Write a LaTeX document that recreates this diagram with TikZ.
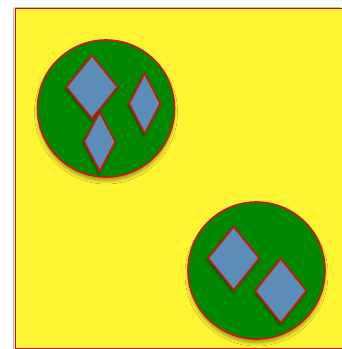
\documentclass[tikz,border=0pt]{standalone}
\usetikzlibrary{shapes.geometric,shadows.blur}
\definecolor{bgyellow}{RGB}{255,244,50}
\definecolor{disc}{RGB}{0,136,0}
\definecolor{gem}{RGB}{92,141,184}
\definecolor{rim}{RGB}{200,24,10}
\tikzset{
  x=1pt,y=-1pt,
  field/.style={fill=bgyellow,draw=rim,line width=1.2pt,
    blur shadow={shadow xshift=-1pt,shadow yshift=0pt,shadow opacity=20,shadow blur radius=1pt}},
  discnode/.style={circle,fill=disc,draw=rim,line width=1.6pt,inner sep=0pt,
    minimum size=137pt,
    blur shadow={shadow xshift=0pt,shadow yshift=-4pt,shadow opacity=35,shadow blur radius=3pt}},
  gemnode/.style={diamond,fill=gem,draw=rim,line width=1.8pt,inner sep=0pt,
    blur shadow={shadow xshift=-1pt,shadow yshift=-2pt,shadow opacity=45,shadow blur radius=2.5pt}},
  widegem/.style={gemnode,minimum width=52pt,minimum height=64pt},
  narrowgem/.style={gemnode,minimum width=32pt,minimum height=61pt}
}
\begin{document}
\begin{tikzpicture}
\useasboundingbox (0,0) rectangle (341,349);
\fill[white] (0,0) rectangle (341,349);
\node[field,rectangle,inner sep=0pt,minimum width=335pt,minimum height=340pt,anchor=north west] (board) at (15,8) {};
\node[discnode] (c1) at (106,108.5) {};
\node[discnode] (c2) at (256.5,270.5) {};
\node[widegem] (g1) at (92,87) {};
\node[narrowgem] (g2) at (144.7,103.5) {};
\node[narrowgem,minimum height=60pt] (g3) at (99.7,141.7) {};
\node[widegem] (g4) at (233.7,258.3) {};
\node[widegem,minimum height=65pt] (g5) at (280.8,290.8) {};
\end{tikzpicture}
\end{document}
